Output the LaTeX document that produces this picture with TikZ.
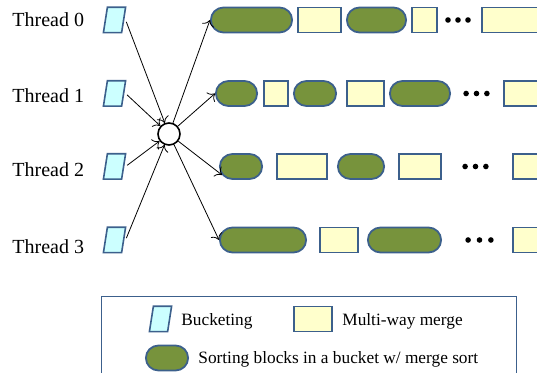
\documentclass[tikz,border=0pt]{standalone}
\usepackage{fontspec}
\setmainfont{Liberation Serif}
\usepackage{tikz}
\usetikzlibrary{arrows.meta, positioning, shapes.misc}
\usepackage{xcolor}
\definecolor{edgeblue}{RGB}{60,96,140}
\definecolor{sortgreen}{RGB}{119,147,60}
\definecolor{mergeyellow}{RGB}{255,255,204}
\definecolor{bucketcyan}{RGB}{204,255,255}

\begin{document}
\begin{tikzpicture}[
      x=0.5pt, y=-0.5pt,
      node distance=2pt,
      thread/.style={font=\fontsize{10}{12}\selectfont, inner sep=0pt, anchor=base west},
      keytext/.style={font=\fontsize{8.65}{10}\selectfont, inner sep=0pt, anchor=base west},
      bucket/.style={
        rectangle, inner sep=0pt, minimum width=10.7pt, minimum height=12.3pt,
        append after command={\pgfextra{
          \filldraw[fill=bucketcyan, draw=edgeblue, line width=0.8pt]
            ([xshift=2pt]\tikzlastnode.north west) -- (\tikzlastnode.north east)
            -- ([xshift=-2pt]\tikzlastnode.south east) -- (\tikzlastnode.south west) -- cycle;}}
      },
      hub/.style={circle, draw, line width=0.8pt, fill=white, minimum size=11pt, inner sep=0pt},
      sortblk/.style={
        rounded rectangle, draw=edgeblue, fill=sortgreen, line width=0.9pt,
        minimum height=12.5pt, minimum width=#1, inner sep=0pt
      },
      mergeblk/.style={
        rectangle, draw=edgeblue, fill=mergeyellow, line width=0.9pt,
        minimum height=12.5pt, minimum width=#1, inner sep=0pt
      },
      dots/.style={
        inner sep=0pt, minimum width=13pt, minimum height=3pt,
        append after command={\pgfextra{
          \foreach \k in {-1,0,1}
            \fill ([xshift=\k*#1]\tikzlastnode.center) circle (1.4pt);}}
      },
      dots/.default=5.2pt,
      arr/.style={-{To[length=3pt]}, line width=0.4pt},
      key/.style={draw=edgeblue, line width=0.6pt, anchor=north west,
        minimum width=207.5pt, minimum height=45pt, inner sep=0pt}
    ]
      \useasboundingbox (0,0) rectangle (537,373);

      % threads and their buckets
      \node[thread] (t0) at (12,27)  {Thread 0};
      \node[thread] (t1) at (12,103) {Thread 1};
      \node[thread] (t2) at (12,177) {Thread 2};
      \node[thread] (t3) at (12,254) {Thread 3};
      \node[bucket] (b0) at (114.5,20)    {};
      \node[bucket] (b1) at (114.5,93.5)  {};
      \node[bucket] (b2) at (114.5,166.5) {};
      \node[bucket] (b3) at (114.5,240)   {};
      \node[hub] (hub) at (169,134) {};

      % row 0
      \node[sortblk=40.6pt, anchor=west] (g00) at (210,20) {};
      \node[mergeblk=21.6pt, right=of g00] (m00) {};
      \node[sortblk=29.6pt, right=of m00] (g01) {};
      \node[mergeblk=12.6pt, right=of g01] (m01) {};
      \node[dots=5pt] (d0) at (458,20) {};
      \node[mergeblk=40pt, anchor=west] (m02) at (481,20) {};

      % row 1
      \node[sortblk=20.6pt, anchor=west] (g10) at (215,93.5) {};
      \node[mergeblk=12.1pt, right=2.5pt of g10] (m10) {};
      \node[sortblk=21.1pt, right=of m10] (g11) {};
      \node[mergeblk=18.6pt, right=4.5pt of g11] (m11) {};
      \node[sortblk=30.1pt, right=of m11] (g12) {};
      \node[dots] (d1) at (476.5,93.5) {};
      \node[mergeblk=40pt, anchor=west] (m12) at (503,93.5) {};

      % row 2
      \node[sortblk=21.1pt, anchor=west] (g20) at (219,166.5) {};
      \node[mergeblk=25.1pt, right=6.5pt of g20] (m20) {};
      \node[sortblk=23.1pt, right=4.5pt of m20] (g21) {};
      \node[mergeblk=21.1pt, right=6.5pt of g21] (m21) {};
      \node[dots] (d2) at (475.5,166.5) {};
      \node[mergeblk=40pt, anchor=west] (m22) at (512,166.5) {};

      % row 3
      \node[sortblk=43.1pt, anchor=west] (g30) at (219,240) {};
      \node[mergeblk=19.1pt, right=6pt of g30] (m30) {};
      \node[sortblk=36.6pt, right=4pt of m30] (g31) {};
      \node[dots=5.7pt] (d3) at (479.5,240) {};
      \node[mergeblk=40pt, anchor=west] (m31) at (512,240) {};

      \draw[arr, shorten <=1pt] (b0.east) -- (hub);
      \draw[arr, shorten <=1pt] (b1.east) -- (hub);
      \draw[arr, shorten <=1pt] (b2.east) -- (hub);
      \draw[arr, shorten <=1pt] (b3.east) -- (hub);
      \draw[arr] (hub) -- (g00.west);
      \draw[arr] (hub) -- (g10.west);
      \draw[arr] (hub) -- (g20.204);
      \draw[arr] (hub) -- (g30.west);

      % key
      \node[key] (key) at (101,296) {};
      \node[bucket] (kb) at (160.5,319) {};
      \node[keytext] (kbt) at (181,326) {Bucketing};
      \node[mergeblk=19.1pt] (km) at (313,319) {};
      \node[keytext] (kmt) at (342,326) {Multi-way merge};
      \node[sortblk=21.1pt] (kg) at (167,358) {};
      \node[keytext] (kgt) at (198,364) {Sorting blocks in a bucket w/ merge sort};
    \end{tikzpicture}
\end{document}
